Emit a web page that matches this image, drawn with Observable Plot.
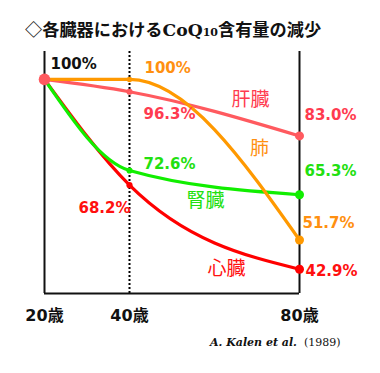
<!DOCTYPE html>
<html>
<head>
<meta charset="utf-8">
<script src="https://cdn.jsdelivr.net/npm/d3@7"></script>
<script src="https://cdn.jsdelivr.net/npm/@observablehq/plot@0.6"></script>
<style>
  html, body { margin: 0; padding: 0; background: #fff; }
  #wrap { position: relative; width: 380px; height: 373px; overflow: hidden; }
  #title { position: absolute; left: 25px; top: 19px; font-family: "Noto Sans CJK JP", sans-serif; font-weight: bold; font-size: 17.2px; line-height: 20px; color: #111; white-space: nowrap; }
  #title .coq { font-family: "DejaVu Serif", serif; font-weight: bold; }
  #title .sub { font-family: "DejaVu Serif", serif; font-size: 11px; }
  #chart { position: absolute; left: 0; top: 44px; }
  #caption { position: absolute; left: 210px; top: 335px; font-size: 11px; line-height: 14px; color: #111; white-space: nowrap; }
  #caption .auth { font-family: "DejaVu Serif", serif; font-weight: bold; font-style: italic; }
  #caption .yr { font-family: "DejaVu Serif", serif; }
</style>
</head>
<body>
<div id="wrap">
  <div id="title">◇各臓器における<span class="coq">CoQ</span><span class="sub">10</span>含有量の減少</div>
  <div id="chart"></div>
  <div id="caption"><span class="auth">A. Kalen et al.</span><span class="yr">&nbsp;&nbsp;(1989)</span></div>
</div>
<script>
const ages = [20, 40, 80];
const ageLabels = ["20歳", "40歳", "80歳"];
const organs = ["心臓", "腎臓", "肝臓", "肺"];
const liver = [100, 96.3, 83.0];
const lung = [100, 100, 51.7];
const kidney = [100, 72.6, 65.3];
const heart = [100, 68.2, 42.9];

const lineColors = ["#ff0000", "#11ee00", "#ff5a5f", "#ff9900"];
const textColors = { "心臓": "#ff1010", "腎臓": "#22e010", "肝臓": "#ff3b50", "肺": "#ff9010" };

const series = { "心臓": heart, "腎臓": kidney, "肝臓": liver, "肺": lung };
const rows = [];
for (const o of organs) ages.forEach((a, i) => rows.push({ organ: o, age: a, value: series[o][i] }));

const Y0 = 35.6, Y1 = 108.4;
const fmt = v => (v === 100 ? "100" : v.toFixed(1)) + "%";
const row = (o, a) => rows.find(d => d.organ === o && d.age === a);

function pct(o, a, opts) {
  return Plot.text([row(o, a)], {
    x: "age", y: "value", text: d => fmt(d.value),
    fill: textColors[o], fontSize: 15, fontWeight: "bold", textAnchor: "start",
    fontFamily: "DejaVu Sans, sans-serif", ...opts
  });
}
function name(o, opts) {
  return Plot.text([row(o, 80)], {
    x: "age", y: "value", text: d => d.organ,
    fill: textColors[o], fontSize: 19, fontFamily: "Noto Sans CJK JP, sans-serif", ...opts
  });
}

const chart = Plot.plot({
  width: 380, height: 286,
  marginLeft: 44, marginRight: 81, marginTop: 7, marginBottom: 37,
  x: { domain: [20, 80], axis: null },
  y: { domain: [Y0, Y1], axis: null },
  color: { domain: organs, range: lineColors },
  style: { background: "white", fontFamily: "DejaVu Sans, Noto Sans CJK JP, sans-serif", overflow: "visible" },
  marks: [
    Plot.ruleX([40], { y1: Y0, y2: Y1, stroke: "#000", strokeWidth: 2, strokeDasharray: "2,2" }),
    Plot.ruleX([20, 80], { y1: Y0, y2: Y1, stroke: "#111", strokeWidth: 2 }),
    Plot.ruleY([Y0], { x1: 20, x2: 80, stroke: "#111", strokeWidth: 2 }),
    ...organs.map(o => Plot.line(rows.filter(d => d.organ === o), { x: "age", y: "value", stroke: "organ", curve: "monotone-x", strokeWidth: 3.2 })),
    Plot.dot(rows.filter(d => d.age === 40), { x: "age", y: "value", fill: "organ", r: d => d.organ === "肺" ? 3 : 3.8 }),
    Plot.dot(rows.filter(d => d.age === 80), { x: "age", y: "value", fill: "organ", r: 4.5 }),
    Plot.dot([row("肝臓", 20)], { x: "age", y: "value", fill: "#ff5a5f", r: 5.8 }),
    Plot.axisX({ ticks: ages, tickFormat: d => ageLabels[ages.indexOf(d)], tickSize: 0, tickPadding: 16, fontSize: 16, fontWeight: "bold", fill: "#111", label: null }),
    pct("肝臓", 20, { fill: "#111", dx: 6, dy: -15 }),
    pct("肺", 40, { dx: 15, dy: -11 }),
    pct("肝臓", 40, { dx: 14, dy: 22 }),
    pct("腎臓", 40, { dx: 14, dy: -6 }),
    pct("心臓", 40, { dx: 1, dy: 23, textAnchor: "end" }),
    pct("肝臓", 80, { dx: 5, dy: -21 }),
    pct("腎臓", 80, { dx: 5, dy: -24 }),
    pct("肺", 80, { dx: 3, dy: -17 }),
    pct("心臓", 80, { dx: 6, dy: 2 }),
    name("肝臓", { dx: -49, dy: -36 }),
    name("肺", { dx: -40, dy: -91 }),
    name("腎臓", { dx: -94, dy: 6 }),
    name("心臓", { dx: -73, dy: 0 })
  ]
});
document.getElementById("chart").appendChild(chart);
</script>
</body>
</html>
